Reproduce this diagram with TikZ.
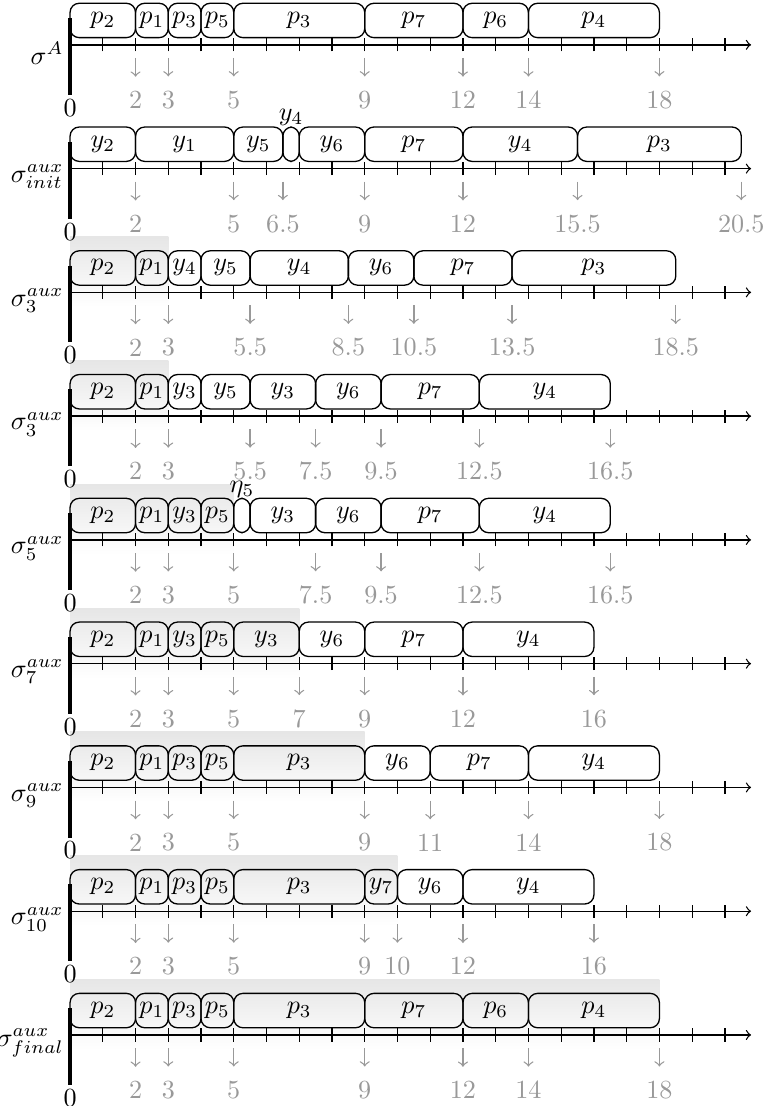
\documentclass[tikz,border=0pt]{standalone}
\definecolor{schGray}{HTML}{999999}
\definecolor{schShade}{HTML}{E6E6E6}
\tikzset{
  sch axis/.style={draw=black, line width=0.5pt, ->},
  sch tick/.style={draw=black, line width=0.5pt},
  sch bar/.style={draw=black, line width=1.4pt},
  sch job/.style={draw=black, line width=0.5pt, rounded corners=3.5pt},
  sch drop/.style={draw=schGray, line width=0.5pt, ->, shorten >=2pt},
  sch num/.style={text=schGray},
  sch name/.style={anchor=east, inner sep=1pt},
}
\begin{document}
\begin{tikzpicture}[x=0.44cm,y=0.44cm]
\useasboundingbox(-2.14,1.37)rectangle(21.17,-32.41);
\foreach \r/\sh in {2/3,3/3,4/5,5/7,6/9,7/10,8/18}{\shade[top color=schShade,bottom color=white](0,{-3.78*\r-0.45})rectangle(\sh,{-3.78*\r+1.7});}
\foreach \r/\lab/\jobs/\marks in {
  0/{\sigma^A}/{0/2/p_2,2/3/p_1,3/4/p_3,4/5/p_5,5/9/p_3,9/12/p_7,12/14/p_6,14/18/p_4}/{2,3,5,9,12,14,18},
  1/{\sigma^{aux}_{init}}/{0/2/y_2,2/5/y_1,5/6.5/y_5,6.5/7/y_4,7/9/y_6,9/12/p_7,12/15.5/y_4,15.5/20.5/p_3}/{2,5,6.5,9,12,15.5,20.5},
  2/{\sigma^{aux}_3}/{0/2/p_2,2/3/p_1,3/4/y_4,4/5.5/y_5,5.5/8.5/y_4,8.5/10.5/y_6,10.5/13.5/p_7,13.5/18.5/p_3}/{2,3,5.5,8.5,10.5,13.5,18.5},
  3/{\sigma^{aux}_3}/{0/2/p_2,2/3/p_1,3/4/y_3,4/5.5/y_5,5.5/7.5/y_3,7.5/9.5/y_6,9.5/12.5/p_7,12.5/16.5/y_4}/{2,3,5.5,7.5,9.5,12.5,16.5},
  4/{\sigma^{aux}_5}/{0/2/p_2,2/3/p_1,3/4/y_3,4/5/p_5,5/5.5/\eta_5,5.5/7.5/y_3,7.5/9.5/y_6,9.5/12.5/p_7,12.5/16.5/y_4}/{2,3,5,7.5,9.5,12.5,16.5},
  5/{\sigma^{aux}_7}/{0/2/p_2,2/3/p_1,3/4/y_3,4/5/p_5,5/7/y_3,7/9/y_6,9/12/p_7,12/16/y_4}/{2,3,5,7,9,12,16},
  6/{\sigma^{aux}_9}/{0/2/p_2,2/3/p_1,3/4/p_3,4/5/p_5,5/9/p_3,9/11/y_6,11/14/p_7,14/18/y_4}/{2,3,5,9,11,14,18},
  7/{\sigma^{aux}_{10}}/{0/2/p_2,2/3/p_1,3/4/p_3,4/5/p_5,5/9/p_3,9/10/y_7,10/12/y_6,12/16/y_4}/{2,3,5,9,10,12,16},
  8/{\sigma^{aux}_{final}}/{0/2/p_2,2/3/p_1,3/4/p_3,4/5/p_5,5/9/p_3,9/12/p_7,12/14/p_6,14/18/p_4}/{2,3,5,9,12,14,18}}{
\begin{scope}[shift={(0,{-3.78*\r})}]
\draw[sch axis](0,0)--(20.8,0);\foreach \x in {1,...,20}{\draw[sch tick](\x,-.2)--(\x,.2);}
\draw[sch bar](0,.82)--(0,-1.53)coordinate(b\r);\node[below=-2pt](z\r)at(b\r){0};
\node[sch name](s\r)at(-.1,-.25){$\lab$};
\foreach \a/\b/\c [count=\j] in \jobs{\pgfmathsetmacro\ly{(\b-\a<1)?1.55:.75}\draw[sch job](\a,.22)rectangle(\b,1.27);\node(j\r-\j)at({(\a+\b)/2},\ly){$\c$};}
\foreach \m [count=\i] in \marks{\node[sch num](n\r-\i)at(\m,-1.68){\m};\coordinate(d\r-\i)at(\m,-.4);\draw[sch drop](d\r-\i)--(n\r-\i);}
\end{scope}}
\end{tikzpicture}
\end{document}
